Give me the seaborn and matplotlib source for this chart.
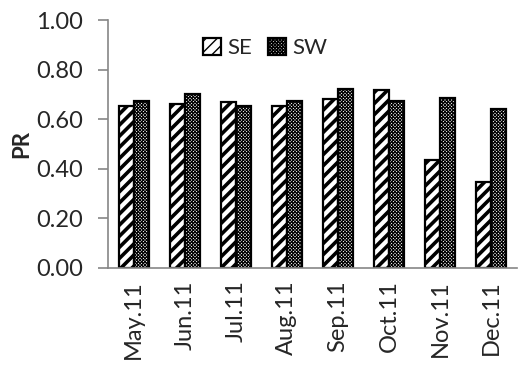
import matplotlib
matplotlib.use("Agg")
import matplotlib.pyplot as plt
import seaborn as sns
import pandas as pd
from matplotlib.patches import Patch

months = ["May.11", "Jun.11", "Jul.11", "Aug.11", "Sep.11", "Oct.11", "Nov.11", "Dec.11"]
se_values = [0.655, 0.663, 0.668, 0.652, 0.680, 0.716, 0.435, 0.345]
sw_values = [0.675, 0.703, 0.652, 0.675, 0.720, 0.675, 0.686, 0.640]
series = ["SE", "SW"]
y_ticks = [0.0, 0.2, 0.4, 0.6, 0.8, 1.0]

df = pd.DataFrame({
    "month": months * 2,
    "PR": se_values + sw_values,
    "series": ["SE"] * len(months) + ["SW"] * len(months),
})

sns.set_style("white")
plt.rcParams["font.family"] = ["Lato", "DejaVu Sans"]
plt.rcParams["hatch.color"] = "black"

fig = plt.figure(figsize=(5.22, 3.67), dpi=100)
ax = fig.add_axes([0.207, 0.270, 0.783, 0.6755])

sns.barplot(data=df, x="month", y="PR", hue="series", order=months,
            hue_order=series, palette=["white", "white"], width=0.59,
            edgecolor="black", linewidth=1.6, saturation=1, ax=ax, legend=False)

# SE: bold diagonal stripes, SW: fine checker texture
hatches = {"SE": ("///", 2.6), "SW": ("x" * 10, 0.8)}
for name, cont in zip(series, ax.containers):
    h, lw = hatches[name]
    for p in cont:
        p.set_hatch(h)
        if hasattr(p, "set_hatch_linewidth"):
            p.set_hatch_linewidth(lw)

handles = []
for name in series:
    h, lw = hatches[name]
    patch = Patch(facecolor="white", edgecolor="black", hatch=h, linewidth=1.6, label=name)
    if hasattr(patch, "set_hatch_linewidth"):
        patch.set_hatch_linewidth(lw)
    handles.append(patch)
ax.legend(handles=handles, loc="upper center", bbox_to_anchor=(0.385, 0.99), ncol=2,
          frameon=False, fontsize=16, handlelength=0.8, handleheight=0.8,
          handletextpad=0.3, columnspacing=0.7, borderpad=0.2)

ax.set_ylim(0, 1.0)
ax.set_yticks(y_ticks)
ax.set_yticklabels([f"{v:.2f}" for v in y_ticks], fontsize=17)
ax.set_xlim(-0.5, len(months) - 0.5)
ax.set_xlabel("")
ax.set_ylabel("PR", fontsize=16, fontweight="bold", labelpad=3)
ax.tick_params(axis="x", labelrotation=90, labelsize=17, length=0, pad=9)
ax.tick_params(axis="y", left=True, length=7, width=1.2, color="#868686", pad=11)

for side in ["top", "right"]:
    ax.spines[side].set_visible(False)
for side in ["left", "bottom"]:
    ax.spines[side].set_color("#868686")
    ax.spines[side].set_linewidth(1.2)

fig.savefig("out.png", dpi=100)
